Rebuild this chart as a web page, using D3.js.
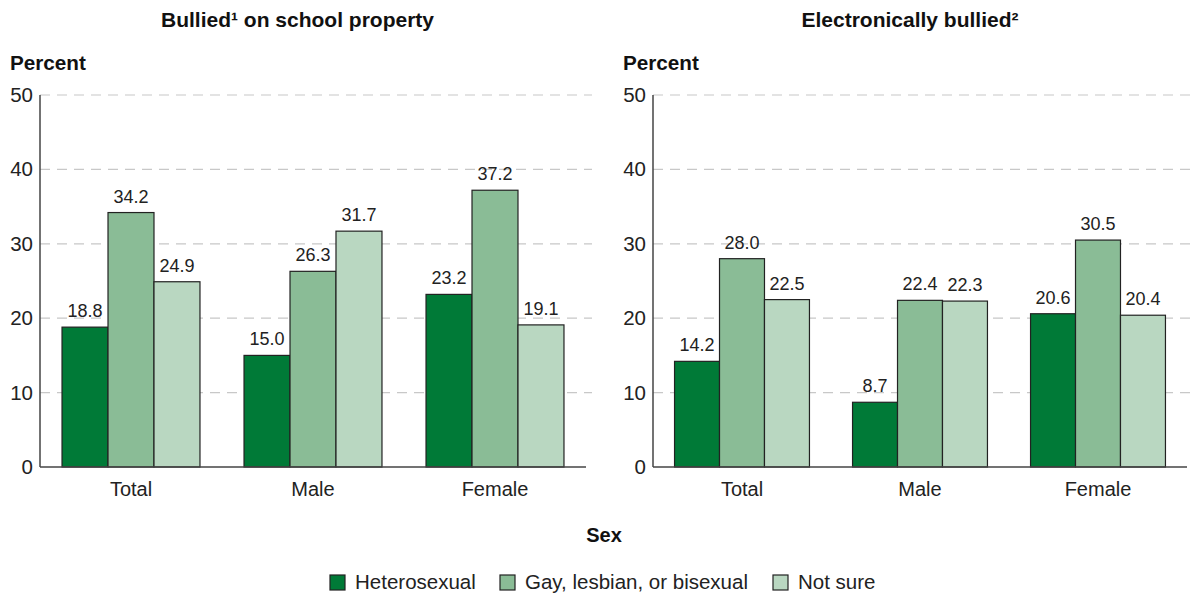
<!DOCTYPE html>
<html><head><meta charset="utf-8">
<script src="https://cdn.jsdelivr.net/npm/d3@7"></script>
<style>body{margin:0;background:#fff;font-family:"Liberation Sans",Arial,sans-serif;}</style>
</head><body><svg id="c" width="1195" height="594"></svg>
<script>
const categories = ["Total", "Male", "Female"];
const seriesNames = ["Heterosexual", "Gay, lesbian, or bisexual", "Not sure"];
const bulliedSchool = [[18.8, 34.2, 24.9], [15.0, 26.3, 31.7], [23.2, 37.2, 19.1]];
const bulliedElectronic = [[14.2, 28.0, 22.5], [8.7, 22.4, 22.3], [20.6, 30.5, 20.4]];
const yTicks = [0, 10, 20, 30, 40, 50];
const colors = ["#007a37", "#8abc96", "#b9d7c1"];

const FONT = "Liberation Sans, Arial, sans-serif";
const svg = d3.select("#c");
const y = d3.scaleLinear().domain([0, 50]).range([467, 95]);

function panel(title, data, x0, x1, titleX) {
  const g = svg.append("g");
  const x = d3.scaleBand().domain(categories).range([x0, x1]).paddingInner(0.242).paddingOuter(0.121);
  const xs = d3.scaleBand().domain(d3.range(3)).range([0, x.bandwidth()]);
  g.selectAll(".grid").data(yTicks.filter(d => d > 0)).join("line")
    .attr("x1", x0).attr("x2", x1 + 6).attr("y1", d => y(d)).attr("y2", d => y(d))
    .attr("stroke", "#c8c8c8").attr("stroke-width", 1.2).attr("stroke-dasharray", "10,7");
  categories.forEach((c, i) => {
    data[i].forEach((v, j) => {
      g.append("rect").attr("x", x(c) + xs(j)).attr("y", y(v))
        .attr("width", xs.bandwidth()).attr("height", y(0) - y(v))
        .attr("fill", colors[j]).attr("stroke", "#222").attr("stroke-width", 1.2);
      g.append("text").attr("x", x(c) + xs(j) + xs.bandwidth() / 2).attr("y", y(v) - 10)
        .attr("text-anchor", "middle").attr("font-size", 18).attr("fill", "#222").text(v.toFixed(1));
    });
  });
  const ya = d3.axisLeft(y).tickValues(yTicks).tickSize(0).tickPadding(7);
  const yg = g.append("g").attr("transform", `translate(${x0},0)`).call(ya);
  yg.select(".domain").attr("stroke", "#444").attr("stroke-width", 1.5).attr("d", `M0,${y(50)}V${y(0)}`);
  yg.selectAll(".tick text").attr("font-size", 20.5).attr("fill", "#222").attr("font-family", FONT);
  const xa = d3.axisBottom(x).tickSize(0).tickPadding(15);
  const xg = g.append("g").attr("transform", `translate(0,${y(0)})`).call(xa);
  xg.select(".domain").attr("stroke", "#444").attr("stroke-width", 1.5).attr("d", `M${x0},0H${x1}`);
  xg.selectAll(".tick text").attr("font-size", 20).attr("fill", "#222").attr("font-family", FONT);
  g.append("text").attr("x", x0 - 30).attr("y", 70).attr("font-weight", "bold").attr("font-size", 20.7).attr("fill", "#111").text("Percent");
  g.append("text").attr("x", titleX).attr("y", 27).attr("text-anchor", "middle").attr("font-weight", "bold").attr("font-size", 21).attr("fill", "#111").text(title);
}

panel("Bullied\u00b9 on school property", bulliedSchool, 40, 586, 297.5);
panel("Electronically bullied\u00b2", bulliedElectronic, 653, 1187, 910);

svg.append("text").attr("x", 604).attr("y", 542).attr("text-anchor", "middle").attr("font-weight", "bold").attr("font-size", 20).attr("fill", "#111").text("Sex");

const legendX = [330, 500, 773];
seriesNames.forEach((n, i) => {
  svg.append("rect").attr("x", legendX[i]).attr("y", 575).attr("width", 15).attr("height", 15)
    .attr("fill", colors[i]).attr("stroke", "#222").attr("stroke-width", 1.2);
  svg.append("text").attr("x", legendX[i] + 25).attr("y", 589).attr("font-size", 20.5).attr("fill", "#222").text(n);
});
</script></body></html>
